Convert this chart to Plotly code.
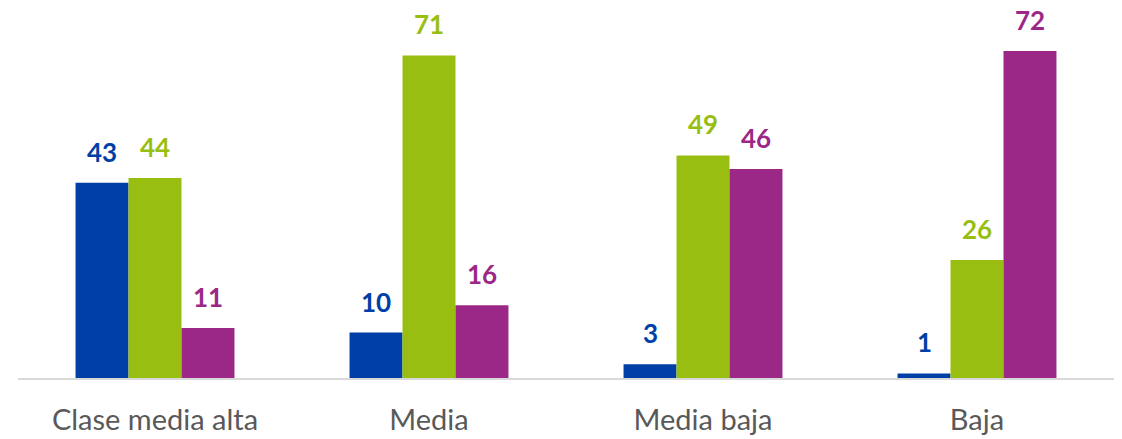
import plotly.graph_objects as go

categories = ["Clase media alta", "Media", "Media baja", "Baja"]
serie_azul = [43, 10, 3, 1]
serie_verde = [44, 71, 49, 26]
serie_morada = [11, 16, 46, 72]

colors = ["#003FA6", "#98BE12", "#9B2886"]
series = [serie_azul, serie_verde, serie_morada]

FONT = "Lato"
fig = go.Figure()
for vals, col in zip(series, colors):
    fig.add_trace(go.Bar(x=list(range(len(categories))), y=vals, marker=dict(color=col, line=dict(width=0)),
                         showlegend=False, hoverinfo="skip"))

bargap = 0.42
bw = (1 - bargap) / 3
for k, (vals, col) in enumerate(zip(series, colors)):
    for i, v in enumerate(vals):
        fig.add_annotation(x=i + (k - 1) * bw, y=v, xref="x", yref="y", text="<b>%d</b>" % v,
                           showarrow=False, yanchor="bottom", yshift=18, height=24, borderpad=0,
                           font=dict(family=FONT, size=26, color=col))

fig.update_layout(
    barmode="group", bargap=bargap, bargroupgap=0,
    width=1122, height=439,
    margin=dict(l=18, r=8, t=0, b=61, autoexpand=False),
    plot_bgcolor="white", paper_bgcolor="white",
    xaxis=dict(tickmode="array", tickvals=list(range(len(categories))), ticktext=categories,
               range=[-0.5, 3.5], showline=True, linecolor="#D9D9D9", linewidth=2,
               showgrid=False, zeroline=False, ticks="", automargin=False,
               ticklabelstandoff=15,
               tickfont=dict(family=FONT, size=29, color="#595959")),
    yaxis=dict(range=[0, 83.2], visible=False, showgrid=False, zeroline=False),
)
fig.write_html("out.html", config={"displayModeBar": False},
               post_script="document.body.style.margin='0';")
